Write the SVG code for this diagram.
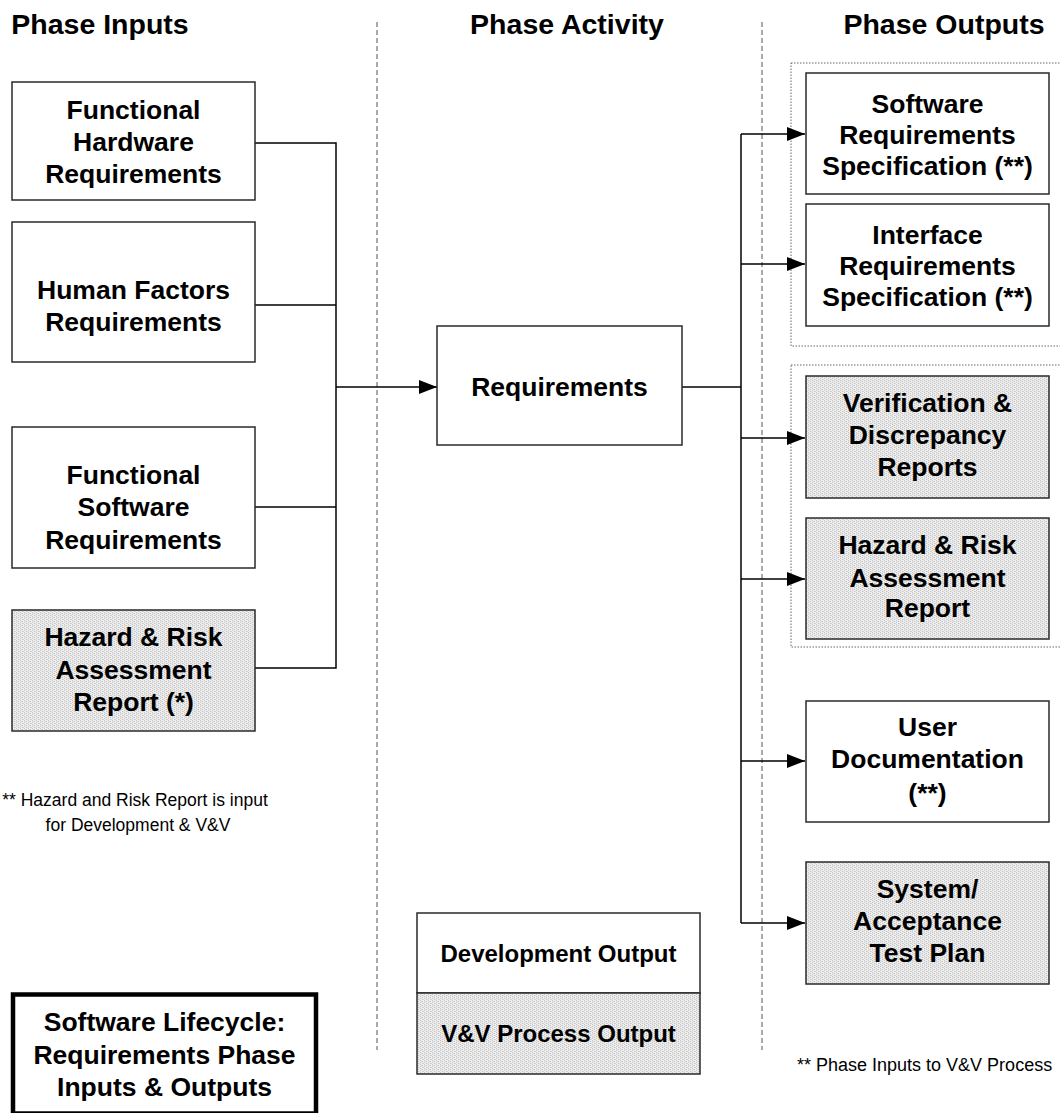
<svg xmlns="http://www.w3.org/2000/svg" width="1060" height="1113" viewBox="0 0 1060 1113">
  <defs>
    <!-- fine dither used for V&V process outputs -->
    <pattern id="dither" width="4" height="4" patternUnits="userSpaceOnUse">
      <rect width="4" height="4" fill="#eeeeee"/>
      <rect x="0" y="0" width="1" height="1" fill="#c4c4c4"/>
      <rect x="2" y="1" width="1" height="1" fill="#c4c4c4"/>
      <rect x="0" y="2" width="1" height="1" fill="#c4c4c4"/>
      <rect x="2" y="3" width="1" height="1" fill="#c4c4c4"/>
      <rect x="1" y="1" width="1" height="1" fill="#dadada"/>
      <rect x="3" y="3" width="1" height="1" fill="#dadada"/>
    </pattern>
    <marker id="arrow" markerUnits="userSpaceOnUse" markerWidth="18" markerHeight="14" refX="18" refY="7" orient="auto">
      <path d="M0,0 L18,7 L0,14 Z" fill="#000"/>
    </marker>
  </defs>
  <style>
    .box { fill: #fff; stroke: #2a2a2a; stroke-width: 1.5; }
    .vv { fill: url(#dither); stroke: #2a2a2a; stroke-width: 1.5; }
    .lbl { font-family: "Liberation Sans", Arial, sans-serif; font-weight: bold; font-size: 26.5px; text-anchor: middle; fill: #000; }
    .legend { font-family: "Liberation Sans", Arial, sans-serif; font-weight: bold; font-size: 24px; text-anchor: middle; fill: #000; }
    .head { font-family: "Liberation Sans", Arial, sans-serif; font-weight: bold; font-size: 28.5px; text-anchor: middle; fill: #000; }
    .note { font-family: "Liberation Sans", Arial, sans-serif; font-size: 17.5px; fill: #000; }
    .divider { stroke: #555; stroke-width: 1; stroke-dasharray: 5 3; fill: none; }
    .grp { stroke: #666; stroke-width: 1; stroke-dasharray: 1.5 1.5; fill: none; }
    .wire { stroke: #000; stroke-width: 1.5; fill: none; }
  </style>

  <rect width="1060" height="1113" fill="#fff"/>

  <!-- column headings -->
  <g id="headings">
    <text class="head" x="100" y="34">Phase Inputs</text>
    <text class="head" x="567" y="34">Phase Activity</text>
    <text class="head" x="944" y="34">Phase Outputs</text>
  </g>

  <!-- column dividers -->
  <g id="dividers">
    <line class="divider" x1="377" y1="22" x2="377" y2="1050"/>
    <line class="divider" x1="762" y1="22" x2="762" y2="1050"/>
  </g>

  <!-- dotted groupings of outputs -->
  <g id="groupings">
    <rect class="grp" x="791" y="63" width="280" height="283"/>
    <rect class="grp" x="791" y="365" width="280" height="282"/>
  </g>

  <!-- connectors -->
  <g id="connectors">
    <polyline class="wire" points="255,143 336,143 336,668 255,668"/>
    <line class="wire" x1="255" y1="305" x2="336" y2="305"/>
    <line class="wire" x1="255" y1="507" x2="336" y2="507"/>
    <line class="wire" x1="336" y1="387" x2="437" y2="387" marker-end="url(#arrow)"/>
    <line class="wire" x1="682" y1="387" x2="741" y2="387"/>
    <line class="wire" x1="741" y1="134" x2="741" y2="923"/>
    <line class="wire" x1="741" y1="134" x2="805" y2="134" marker-end="url(#arrow)"/>
    <line class="wire" x1="741" y1="264" x2="805" y2="264" marker-end="url(#arrow)"/>
    <line class="wire" x1="741" y1="438" x2="805" y2="438" marker-end="url(#arrow)"/>
    <line class="wire" x1="741" y1="579" x2="805" y2="579" marker-end="url(#arrow)"/>
    <line class="wire" x1="741" y1="761" x2="805" y2="761" marker-end="url(#arrow)"/>
    <line class="wire" x1="741" y1="923" x2="805" y2="923" marker-end="url(#arrow)"/>
  </g>

  <!-- inputs -->
  <g id="in-hw">
    <rect class="box" x="12" y="82" width="243" height="118"/>
    <text class="lbl" x="133.5" y="119">Functional</text>
    <text class="lbl" x="133.5" y="151">Hardware</text>
    <text class="lbl" x="133.5" y="183">Requirements</text>
  </g>
  <g id="in-hf">
    <rect class="box" x="12" y="222" width="243" height="140"/>
    <text class="lbl" x="133.5" y="299">Human Factors</text>
    <text class="lbl" x="133.5" y="331">Requirements</text>
  </g>
  <g id="in-sw">
    <rect class="box" x="12" y="427" width="243" height="141"/>
    <text class="lbl" x="133.5" y="484">Functional</text>
    <text class="lbl" x="133.5" y="516">Software</text>
    <text class="lbl" x="133.5" y="549">Requirements</text>
  </g>
  <g id="in-hazard">
    <rect class="vv" x="12" y="610" width="243" height="121"/>
    <text class="lbl" x="133.5" y="646">Hazard &amp; Risk</text>
    <text class="lbl" x="133.5" y="679">Assessment</text>
    <text class="lbl" x="133.5" y="711">Report (*)</text>
  </g>

  <!-- activity -->
  <g id="activity">
    <rect class="box" x="437" y="326" width="245" height="119"/>
    <text class="lbl" x="559.5" y="396">Requirements</text>
  </g>

  <!-- outputs -->
  <g id="out-srs">
    <rect class="box" x="806" y="73" width="243" height="121"/>
    <text class="lbl" x="927.5" y="113">Software</text>
    <text class="lbl" x="927.5" y="144">Requirements</text>
    <text class="lbl" x="927.5" y="175">Specification (**)</text>
  </g>
  <g id="out-irs">
    <rect class="box" x="806" y="204" width="243" height="122"/>
    <text class="lbl" x="927.5" y="244">Interface</text>
    <text class="lbl" x="927.5" y="275">Requirements</text>
    <text class="lbl" x="927.5" y="306">Specification (**)</text>
  </g>
  <g id="out-vd">
    <rect class="vv" x="806" y="376" width="243" height="122"/>
    <text class="lbl" x="927.5" y="412">Verification &amp;</text>
    <text class="lbl" x="927.5" y="444">Discrepancy</text>
    <text class="lbl" x="927.5" y="476">Reports</text>
  </g>
  <g id="out-hazard">
    <rect class="vv" x="806" y="518" width="243" height="121"/>
    <text class="lbl" x="927.5" y="554">Hazard &amp; Risk</text>
    <text class="lbl" x="927.5" y="587">Assessment</text>
    <text class="lbl" x="927.5" y="617">Report</text>
  </g>
  <g id="out-userdoc">
    <rect class="box" x="806" y="701" width="243" height="121"/>
    <text class="lbl" x="927.5" y="736">User</text>
    <text class="lbl" x="927.5" y="768">Documentation</text>
    <text class="lbl" x="927.5" y="802">(**)</text>
  </g>
  <g id="out-systest">
    <rect class="vv" x="806" y="862" width="243" height="122"/>
    <text class="lbl" x="927.5" y="898">System/</text>
    <text class="lbl" x="927.5" y="930">Acceptance</text>
    <text class="lbl" x="927.5" y="962">Test Plan</text>
  </g>

  <!-- legend -->
  <g id="legend">
    <rect class="box" x="417" y="913" width="283" height="80"/>
    <text class="legend" x="558.5" y="962">Development Output</text>
    <rect class="vv" x="417" y="993" width="283" height="81"/>
    <text class="legend" x="558.5" y="1042">V&amp;V Process Output</text>
  </g>

  <!-- title block -->
  <g id="title">
    <rect x="13" y="994.5" width="303" height="119" fill="#fff" stroke="#000" stroke-width="4.5"/>
    <text class="lbl" x="164.5" y="1031">Software Lifecycle:</text>
    <text class="lbl" x="164.5" y="1064">Requirements Phase</text>
    <text class="lbl" x="164.5" y="1096">Inputs &amp; Outputs</text>
  </g>

  <!-- footnotes -->
  <g id="notes">
    <text class="note" x="135" y="806" text-anchor="middle">** Hazard and Risk Report is input</text>
    <text class="note" x="138" y="831" text-anchor="middle">for Development &amp; V&amp;V</text>
    <text class="note" x="797" y="1071" style="font-size:18px">** Phase Inputs to V&amp;V Process</text>
  </g>
</svg>
